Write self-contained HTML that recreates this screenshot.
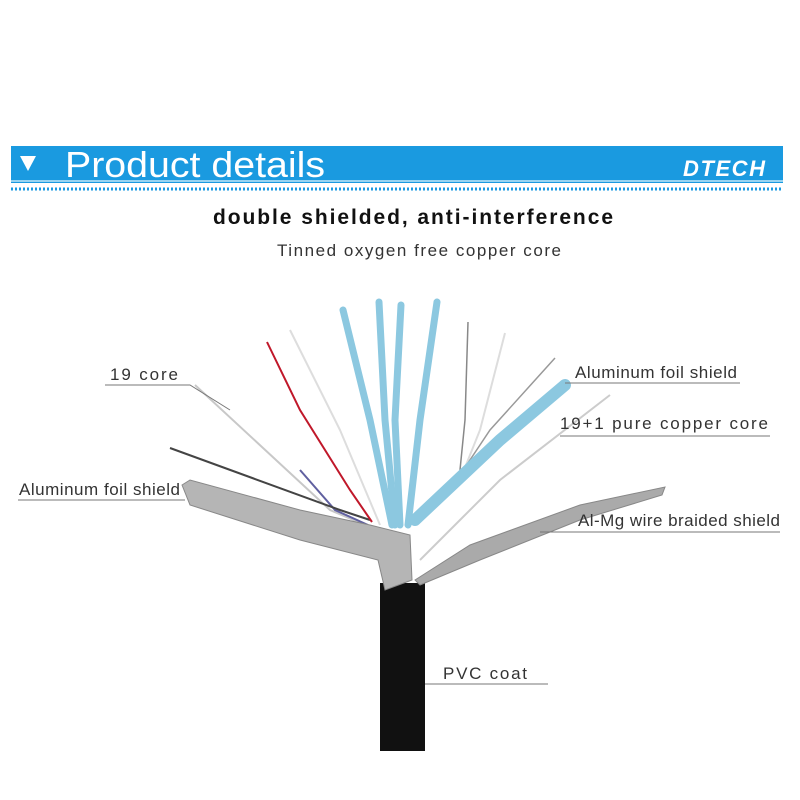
<!DOCTYPE html>
<html><head><style>
body{margin:0;background:#fff;width:800px;height:800px;overflow:hidden}
svg{display:block}
text{font-family:"Liberation Sans",sans-serif}
</style></head><body>
<svg width="800" height="800" viewBox="0 0 800 800">
<rect x="11" y="146" width="772" height="37" fill="#1a9ae0"/>
<line x1="11" y1="181" x2="783" y2="181" stroke="#bfe8f8" stroke-width="1.5"/>
<line x1="11" y1="189" x2="783" y2="189" stroke="#1a9ae0" stroke-width="3" stroke-dasharray="2 2"/>
<polygon points="20,156 36,156 28,171" fill="#fff"/>
<text x="65" y="177" font-size="36" fill="#fff" textLength="260" lengthAdjust="spacingAndGlyphs">Product details</text>
<text x="683" y="176" font-size="22" font-weight="bold" font-style="italic" fill="#fff" textLength="82">DTECH</text>
<text x="213" y="224" font-size="21" font-weight="bold" fill="#111" textLength="400">double shielded, anti-interference</text>
<text x="277" y="256" font-size="17" fill="#333" textLength="284">Tinned oxygen free copper core</text>
<!-- cable -->
<rect x="380" y="583" width="45" height="168" fill="#111"/>
<g fill="none" stroke-width="2">
<path d="M195,385 L330,510 L365,525" stroke="#c8c8c8"/>
<path d="M300,470 L335,510 L368,525" stroke="#6060a0"/>
<path d="M170,448 L340,510 L370,520" stroke="#444"/>
<path d="M267,342 L300,410 L350,490 L372,522" stroke="#c0182a"/>
<path d="M290,330 L340,430 L380,525" stroke="#ddd"/>
<path d="M468,322 L465,420 L460,470" stroke="#888" stroke-width="1.5"/>
<path d="M505,333 L480,430 L460,480" stroke="#ddd"/>
<path d="M555,358 L490,430 L450,490" stroke="#999" stroke-width="1.5"/>
<path d="M610,395 L500,480 L420,560" stroke="#ccc"/>
</g>
<g fill="none" stroke="#8cc8e0" stroke-width="7" stroke-linecap="round">
<path d="M343,310 L370,420 L392,525"/>
<path d="M379,302 L385,420 L395,525"/>
<path d="M401,305 L395,420 L400,525"/>
<path d="M437,302 L420,420 L408,525"/>
<path d="M565,385 L500,440 L415,520" stroke-width="12"/>
</g>
<path d="M182,485 L190,480 L300,510 L370,525 L410,535 L412,580 L385,590 L378,560 L300,540 L190,505 Z" fill="#b5b5b5" stroke="#888"/>
<path d="M415,580 L470,545 L580,505 L665,487 L662,495 L580,520 L480,560 L420,585 Z" fill="#aaa" stroke="#888"/>
<g stroke="#777" stroke-width="1" fill="none">
<path d="M105,385 H190 L230,410"/>
<path d="M18,500 H185"/>
<path d="M565,383 H740"/>
<path d="M560,436 H770"/>
<path d="M540,532 H780"/>
<path d="M425,684 H548"/>
</g>
<g font-size="17" fill="#333">
<text x="110" y="380" textLength="68">19 core</text>
<text x="19" y="495" textLength="161">Aluminum foil shield</text>
<text x="575" y="378" textLength="162">Aluminum foil shield</text>
<text x="560" y="429" textLength="208">19+1 pure copper core</text>
<text x="578" y="526" textLength="202">Al-Mg wire braided shield</text>
<text x="443" y="679" textLength="84">PVC coat</text>
</g>
</svg>
</body></html>
